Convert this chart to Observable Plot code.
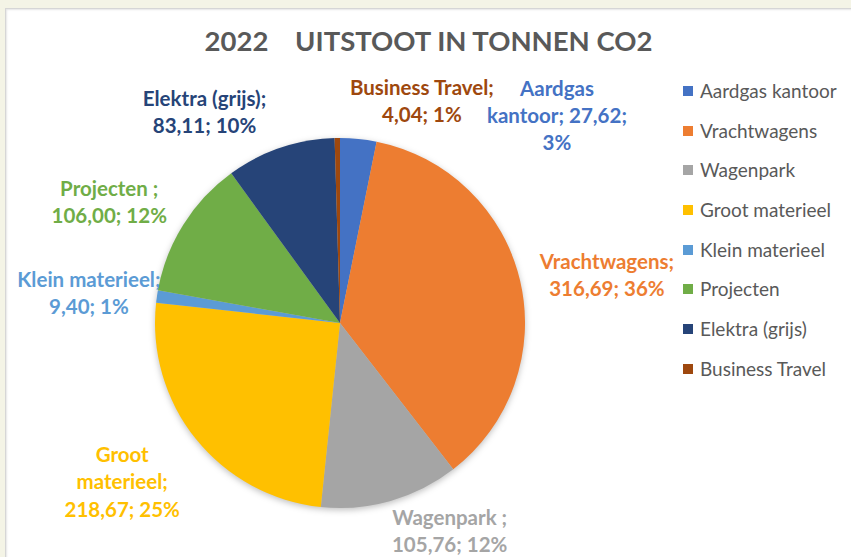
<!DOCTYPE html>
<html>
<head>
<meta charset="utf-8">
<script src="https://cdn.jsdelivr.net/npm/d3@7"></script>
<script src="https://cdn.jsdelivr.net/npm/@observablehq/plot@0.6"></script>
<style>
  html, body { margin: 0; padding: 0; }
  body { width: 851px; height: 557px; background: #f4f4e6; position: relative; overflow: hidden; font-family: Lato, "Open Sans", sans-serif; }
  #card { position: absolute; left: 5px; top: 8px; width: 850px; height: 560px; background: #fff; border: 1px solid #d6d6d6; box-shadow: inset 1px 1px 2px #e6e6e6; }
  #title { position: absolute; left: 0; top: 24px; width: 857px; text-align: center; font-size: 27.5px; font-weight: 700; color: #595959; white-space: pre; }
  #chart { position: absolute; left: 0; top: 0; }
  #legend { position: absolute; left: 683px; top: 80px; }
  .item { height: 39.7px; display: flex; align-items: flex-start; font-size: 19px; color: #595959; line-height: 22px; }
  .sw { width: 10px; height: 10px; margin-right: 7px; margin-top: 6px; flex: none; }
</style>
</head>
<body>
<div id="card"></div>
<div id="title">2022    UITSTOOT IN TONNEN CO2</div>
<div id="chart"></div>
<div id="legend"></div>
<script>
// Data
const categories = ["Aardgas kantoor", "Vrachtwagens", "Wagenpark", "Groot materieel", "Klein materieel", "Projecten", "Elektra (grijs)", "Business Travel"];
const values = [27.62, 316.69, 105.76, 218.67, 9.40, 106.00, 83.11, 4.04];
const percentLabels = ["3%", "36%", "12%", "25%", "1%", "12%", "10%", "1%"];
const labelNames = ["Aardgas\nkantoor", "Vrachtwagens", "Wagenpark ", "Groot\nmaterieel", "Klein materieel", "Projecten ", "Elektra (grijs)", "Business Travel"];
const colors = ["#4472C4", "#ED7D31", "#A5A5A5", "#FFC000", "#5B9BD5", "#70AD47", "#264478", "#9E480E"];

// Layout (label placement, in pie-radius units relative to the centre)
const labelDX = [1.17, 1.44, 0.59, -1.18, -1.36, -1.25, -0.735, 0.44];
const labelDY = [-1.13, -0.27, 1.115, 0.85, -0.17, -0.665, -1.15, -1.21];

const fmt = v => v.toFixed(2).replace(".", ",");
const rows = categories.map((c, i) => ({
  name: c, value: values[i],
  label: (c === "Aardgas kantoor" ? "Aardgas\nkantoor; " + fmt(values[i]) + ";\n" + percentLabels[i]
                                  : labelNames[i] + ";\n" + fmt(values[i]) + "; " + percentLabels[i]),
  lx: labelDX[i], ly: labelDY[i]
}));
const arcs = d3.pie().sort(null).value(d => d.value)(rows);

const pieMark = Plot.dot(arcs, {
  x: () => 0, y: () => 0, fill: d => d.data.name,
  render(index, scales, vals) {
    const cx = scales.x(0), cy = scales.y(0);
    const r = scales.x(1) - scales.x(0);
    const arc = d3.arc().innerRadius(0).outerRadius(r);
    const g = d3.create("svg:g")
      .attr("transform", `translate(${cx},${cy})`)
      .style("filter", "drop-shadow(0px 2px 3px rgba(0,0,0,0.25))");
    for (const i of index) {
      g.append("path").attr("d", arc(arcs[i])).attr("fill", vals.fill[i]);
    }
    return g.node();
  }
});

const plot = Plot.plot({
  width: 851, height: 557, margin: 0,
  style: { background: "transparent", overflow: "visible" },
  x: { domain: [-1, 1], range: [155, 525], axis: null },
  y: { domain: [-1, 1], range: [138, 508], axis: null },
  color: { domain: categories, range: colors },
  marks: [
    pieMark,
    Plot.text(rows, {
      x: "lx", y: "ly", text: "label", fill: "name",
      fontSize: 20.5, fontWeight: 700, lineHeight: 1.33,
      fontFamily: "Lato, 'Open Sans', sans-serif"
    })
  ]
});
document.getElementById("chart").appendChild(plot);

// Legend
const leg = d3.select("#legend");
categories.forEach((c, i) => {
  const it = leg.append("div").attr("class", "item");
  it.append("div").attr("class", "sw").style("background", colors[i]);
  it.append("span").text(c);
});
</script>
</body>
</html>
